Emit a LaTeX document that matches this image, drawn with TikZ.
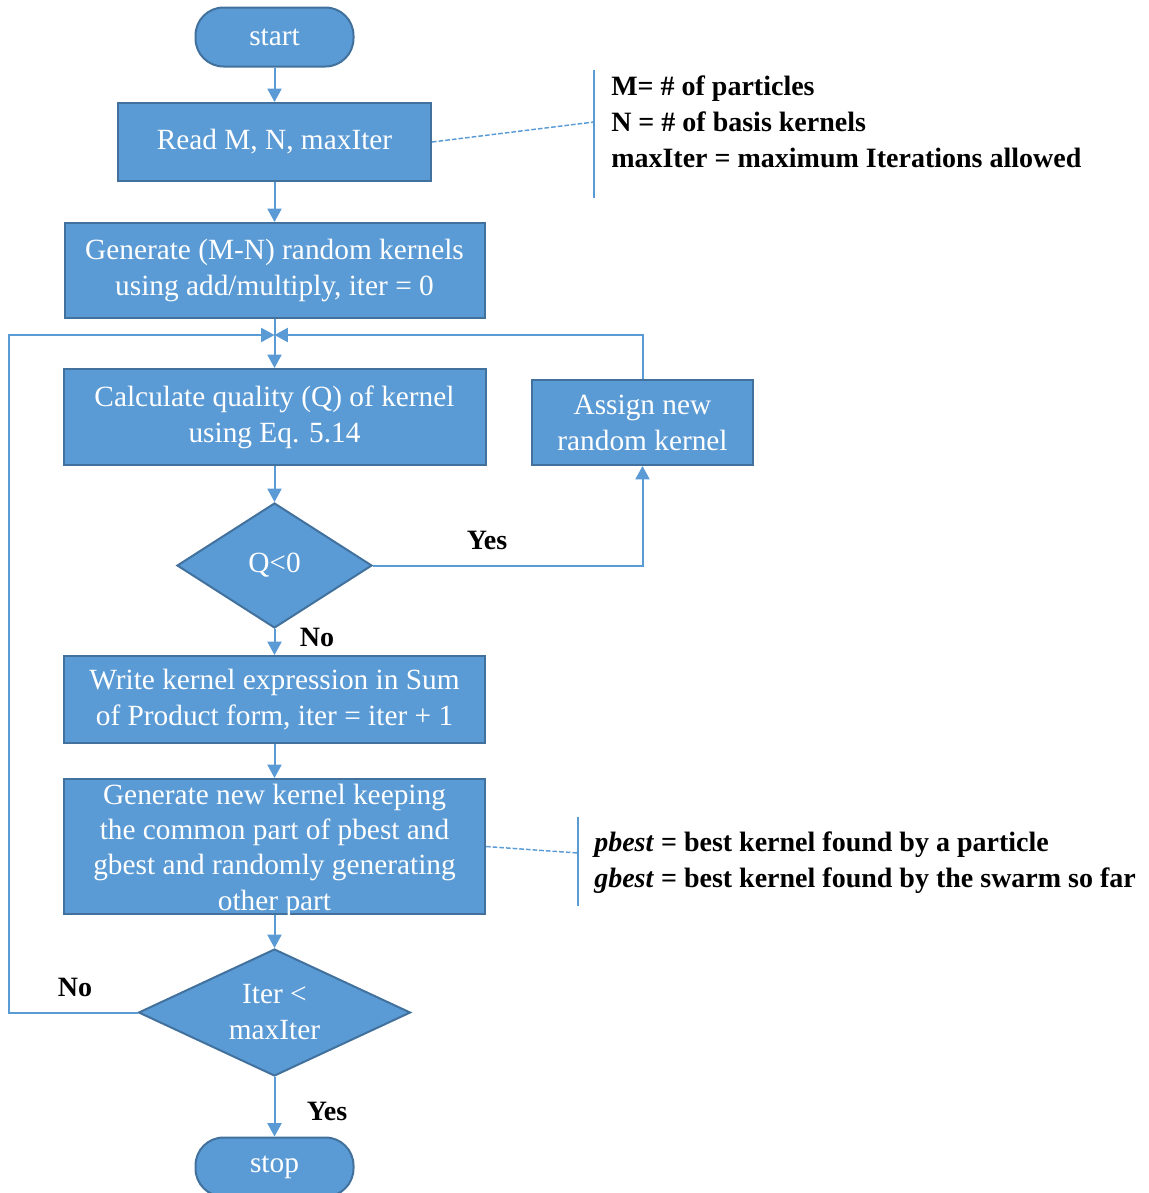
\documentclass[tikz,border=0pt]{standalone}
\usepackage{fontspec}
\setmainfont{Liberation Serif}
\usetikzlibrary{shapes.geometric,arrows.meta}
\definecolor{bfill}{HTML}{5B9BD5}
\definecolor{bdraw}{HTML}{41719C}
\begin{document}
\begin{tikzpicture}[x=0.75pt,y=-0.75pt,
  boxstyle/.style={rectangle, draw=bdraw, fill=bfill, line width=1.5pt, text=white,
    font=\fontsize{22}{27}\selectfont, align=center, inner sep=0pt},
  termstyle/.style={boxstyle, rounded corners=21pt},
  decstyle/.style={diamond, draw=bdraw, fill=bfill, line width=1.5pt, text=white,
    font=\fontsize{22}{27}\selectfont, align=center, inner sep=0pt, aspect=2.1},
  boxtext/.style={text=white, font=\fontsize{22}{26.5}\selectfont, align=center, inner sep=0pt},
  conn/.style={draw=bfill, line width=1.5pt, -{Triangle[width=10.5pt,length=10pt]}},
  plain/.style={draw=bfill, line width=1.5pt},
  annline/.style={draw=bfill, line width=1.1pt},
  dashline/.style={draw=bfill, line width=1.1pt, dash pattern=on 3.5pt off 1.5pt},
  lbl/.style={font=\fontsize{21}{27}\selectfont\bfseries, inner sep=0pt},
  anntext/.style={font=\fontsize{21}{27}\selectfont\bfseries, align=left, inner sep=0pt, anchor=west}
]
\useasboundingbox (0,0) rectangle (1149,1193);

% main column
\node[termstyle, minimum width=118.5pt, minimum height=44.25pt] (start) at (274.5,37) {start};
\node[boxstyle, minimum width=234.75pt, minimum height=58.5pt] (read) at (274.5,142) {Read M, N, maxIter};
\node[boxstyle, minimum width=315pt, minimum height=71.25pt] (gen) at (274.5,270.5) {Generate (M-N) random kernels\\using add/multiply, iter = 0};
\node[boxstyle, minimum width=316.5pt, minimum height=72pt] (calc) at (274.5,417) {Calculate quality (Q) of kernel\\using Eq. 5.14};
\node[boxstyle, minimum width=165.75pt, minimum height=63.75pt] (assign) at (642.5,422.5) {Assign new\\random kernel};
\node[decstyle, minimum width=146.25pt, minimum height=93.75pt] (q) at (274.5,565.5) {Q<0};
\node[boxstyle, minimum width=315.75pt, minimum height=65.25pt] (write) at (274.5,699.5) {Write kernel expression in Sum\\of Product form, iter = iter + 1};
\node[boxstyle, minimum width=315.75pt, minimum height=101.25pt] (gnew) at (274.5,846.5) {};
\node[boxtext] (gnewtext) at (274.5,850) {Generate new kernel keeping\\the common part of pbest and\\gbest and randomly generating\\other part};
\node[decstyle, minimum width=204pt, minimum height=95.25pt] (iter) at (274.5,1012.5) {Iter <\\maxIter};
\node[termstyle, minimum width=118.5pt, minimum height=44.25pt] (stop) at (274.5,1167) {stop};

% junction and loop coordinates
\coordinate (j) at (274.5,335);
\coordinate (lb) at (9,1012.5);
\coordinate (lt) at (9,335);

% connectors
\draw[conn] (start) -- (read);
\draw[conn] (read) -- (gen);
\draw[conn] (gen) -- (calc);
\draw[conn] (calc) -- (q);
\draw[conn] (q) -- (write);
\draw[conn] (write) -- (gnew);
\draw[conn] (gnew) -- (iter);
\draw[conn] (iter) -- (stop);
\draw[conn] (q.east) -| (assign.south);
\draw[conn] (assign.north) |- (j);
\draw[conn] (iter.west) -- (lb) -- (lt) -- (j);

% labels
\node[lbl] (yes1) at (487,540) {Yes};
\node[lbl] (no1) at (317,637) {No};
\node[lbl] (no2) at (75,987) {No};
\node[lbl] (yes2) at (327,1111) {Yes};

% annotation 1
\coordinate (a1t) at (594,70);
\coordinate (a1b) at (594,198);
\coordinate (a1m) at (594,122);
\draw[annline] (a1t) -- (a1b);
\draw[dashline] (read.east) -- (a1m);
\node[anntext] (ann1) at (611,122) {M= \# of particles\\N = \# of basis kernels\\maxIter = maximum Iterations allowed};

% annotation 2
\coordinate (a2t) at (578,817);
\coordinate (a2b) at (578,906);
\coordinate (a2m) at (578,853);
\draw[annline] (a2t) -- (a2b);
\draw[dashline] (gnew.east) -- (a2m);
\node[anntext] (ann2) at (594,862.5) {\textit{pbest} = best kernel found by a particle\\\textit{gbest} = best kernel found by the swarm so far};
\end{tikzpicture}
\end{document}
